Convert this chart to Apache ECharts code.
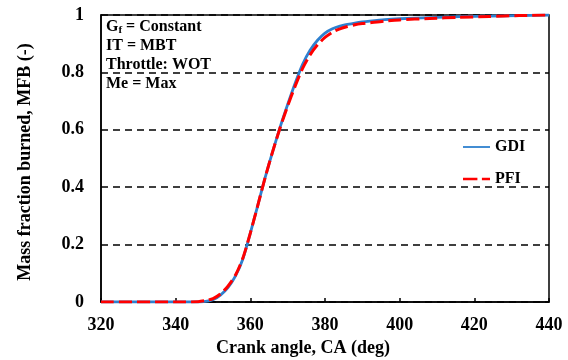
<!DOCTYPE html>
<html>
<head>
<meta charset="utf-8">
<script src="https://cdn.jsdelivr.net/npm/echarts@6/dist/echarts.min.js"></script>
<style>
  html, body { margin: 0; padding: 0; background: #fff; }
  #chart { width: 568px; height: 360px; }
</style>
</head>
<body>
<div id="chart"></div>
<script>
// Crank angle (deg) sampling points
const crankAngle = [320, 340, 346, 348, 350, 352, 354, 356, 358, 360, 362, 364, 366, 368, 370,
  372, 374, 376, 378, 380, 382, 384, 386, 388, 390, 392, 396, 400, 408, 416, 424, 432, 440];

// Mass fraction burned, gasoline direct injection
const mfbGDI = [0, 0, 0, 0.002, 0.008, 0.024, 0.05, 0.09, 0.15, 0.24, 0.337, 0.435, 0.525, 0.61, 0.688,
  0.762, 0.828, 0.877, 0.912, 0.937, 0.952, 0.961, 0.967, 0.972, 0.976, 0.979, 0.984, 0.987, 0.991, 0.994, 0.996, 0.998, 1.0];

// Mass fraction burned, port fuel injection
const mfbPFI = [0, 0, 0.001, 0.005, 0.012, 0.028, 0.055, 0.093, 0.153, 0.24, 0.337, 0.435, 0.525, 0.608, 0.683,
  0.752, 0.814, 0.861, 0.896, 0.922, 0.94, 0.952, 0.96, 0.966, 0.97, 0.973, 0.979, 0.983, 0.988, 0.992, 0.995, 0.998, 1.0];

const xTicks = { min: 320, max: 440, step: 20 };
const yTicks = { min: 0, max: 1, step: 0.2 };

const conditionLines = ['{b|G}{s|f}{b| = Constant}', '{b|IT = MBT}', '{b|Throttle: WOT}', '{b|Me = Max}'];

const serif = '"Liberation Serif", "Times New Roman", serif';

const pairs = arr => crankAngle.map((x, i) => [x, arr[i]]);

const chart = echarts.init(document.getElementById('chart'), null, { renderer: 'canvas' });

chart.setOption({
  animation: false,
  backgroundColor: '#fff',
  grid: {
    left: 101, right: 19, top: 15, bottom: 58,
    show: true, borderColor: '#000', borderWidth: 1.5, backgroundColor: 'transparent'
  },
  xAxis: {
    type: 'value',
    min: xTicks.min, max: xTicks.max, interval: xTicks.step,
    axisLine: { show: true, lineStyle: { color: '#000', width: 1.5 } },
    axisTick: { show: true, inside: true, length: 4, lineStyle: { color: '#000', width: 1.5 } },
    axisLabel: { color: '#000', fontFamily: serif, fontWeight: 'bold', fontSize: 18, margin: 14 },
    splitLine: { show: false }
  },
  yAxis: {
    type: 'value',
    min: yTicks.min, max: yTicks.max, interval: yTicks.step,
    axisLine: { show: true, lineStyle: { color: '#000', width: 1.5 } },
    axisTick: { show: false },
    axisLabel: { color: '#000', fontFamily: serif, fontWeight: 'bold', fontSize: 18, margin: 17 },
    splitLine: { show: true, lineStyle: { color: '#000', width: 1.5, type: [7, 5] } }
  },
  legend: {
    orient: 'vertical',
    left: 458, top: 134,
    itemWidth: 27, itemHeight: 14, itemGap: 16,
    textStyle: { color: '#000', fontFamily: serif, fontWeight: 'bold', fontSize: 16 },
    data: [
      { name: 'GDI', icon: 'path://M0,6 L30,6 L30,8 L0,8 Z', itemStyle: { color: '#2e80cf' } },
      { name: 'PFI', icon: 'path://M0,6 L16,6 L16,8.6 L0,8.6 Z M21,6 L30,6 L30,8.6 L21,8.6 Z', itemStyle: { color: '#ff0000' } }
    ]
  },
  series: [
    {
      name: 'GDI', type: 'line', data: pairs(mfbGDI),
      smooth: 0.25, symbol: 'none',
      lineStyle: { color: '#2e80cf', width: 2.8 },
      itemStyle: { color: '#2e80cf' }
    },
    {
      name: 'PFI', type: 'line', data: pairs(mfbPFI),
      smooth: 0.25, symbol: 'none',
      lineStyle: { color: '#ff0000', width: 3, type: [13, 5] },
      itemStyle: { color: '#ff0000' }
    }
  ],
  graphic: [
    {
      type: 'text', left: 106, top: 18,
      style: {
        text: conditionLines.join('\n'),
        fill: '#000',
        lineHeight: 18.7,
        rich: {
          b: { fontFamily: serif, fontWeight: 'bold', fontSize: 16, lineHeight: 18.7, fill: '#000' },
          s: { fontFamily: serif, fontWeight: 'bold', fontSize: 11, lineHeight: 18.7, padding: [6, 0, 0, 0], fill: '#000' }
        }
      }
    },
    {
      type: 'text', x: 303, y: 348,
      style: {
        text: 'Crank angle, CA (deg)', fill: '#000',
        font: 'bold 18px ' + serif, textAlign: 'center', textVerticalAlign: 'middle'
      }
    },
    {
      type: 'text', x: 25, y: 162, rotation: Math.PI / 2,
      style: {
        text: 'Mass fraction burned, MFB (-)', fill: '#000',
        font: 'bold 18px ' + serif, textAlign: 'center', textVerticalAlign: 'middle'
      }
    }
  ]
});
</script>
</body>
</html>
